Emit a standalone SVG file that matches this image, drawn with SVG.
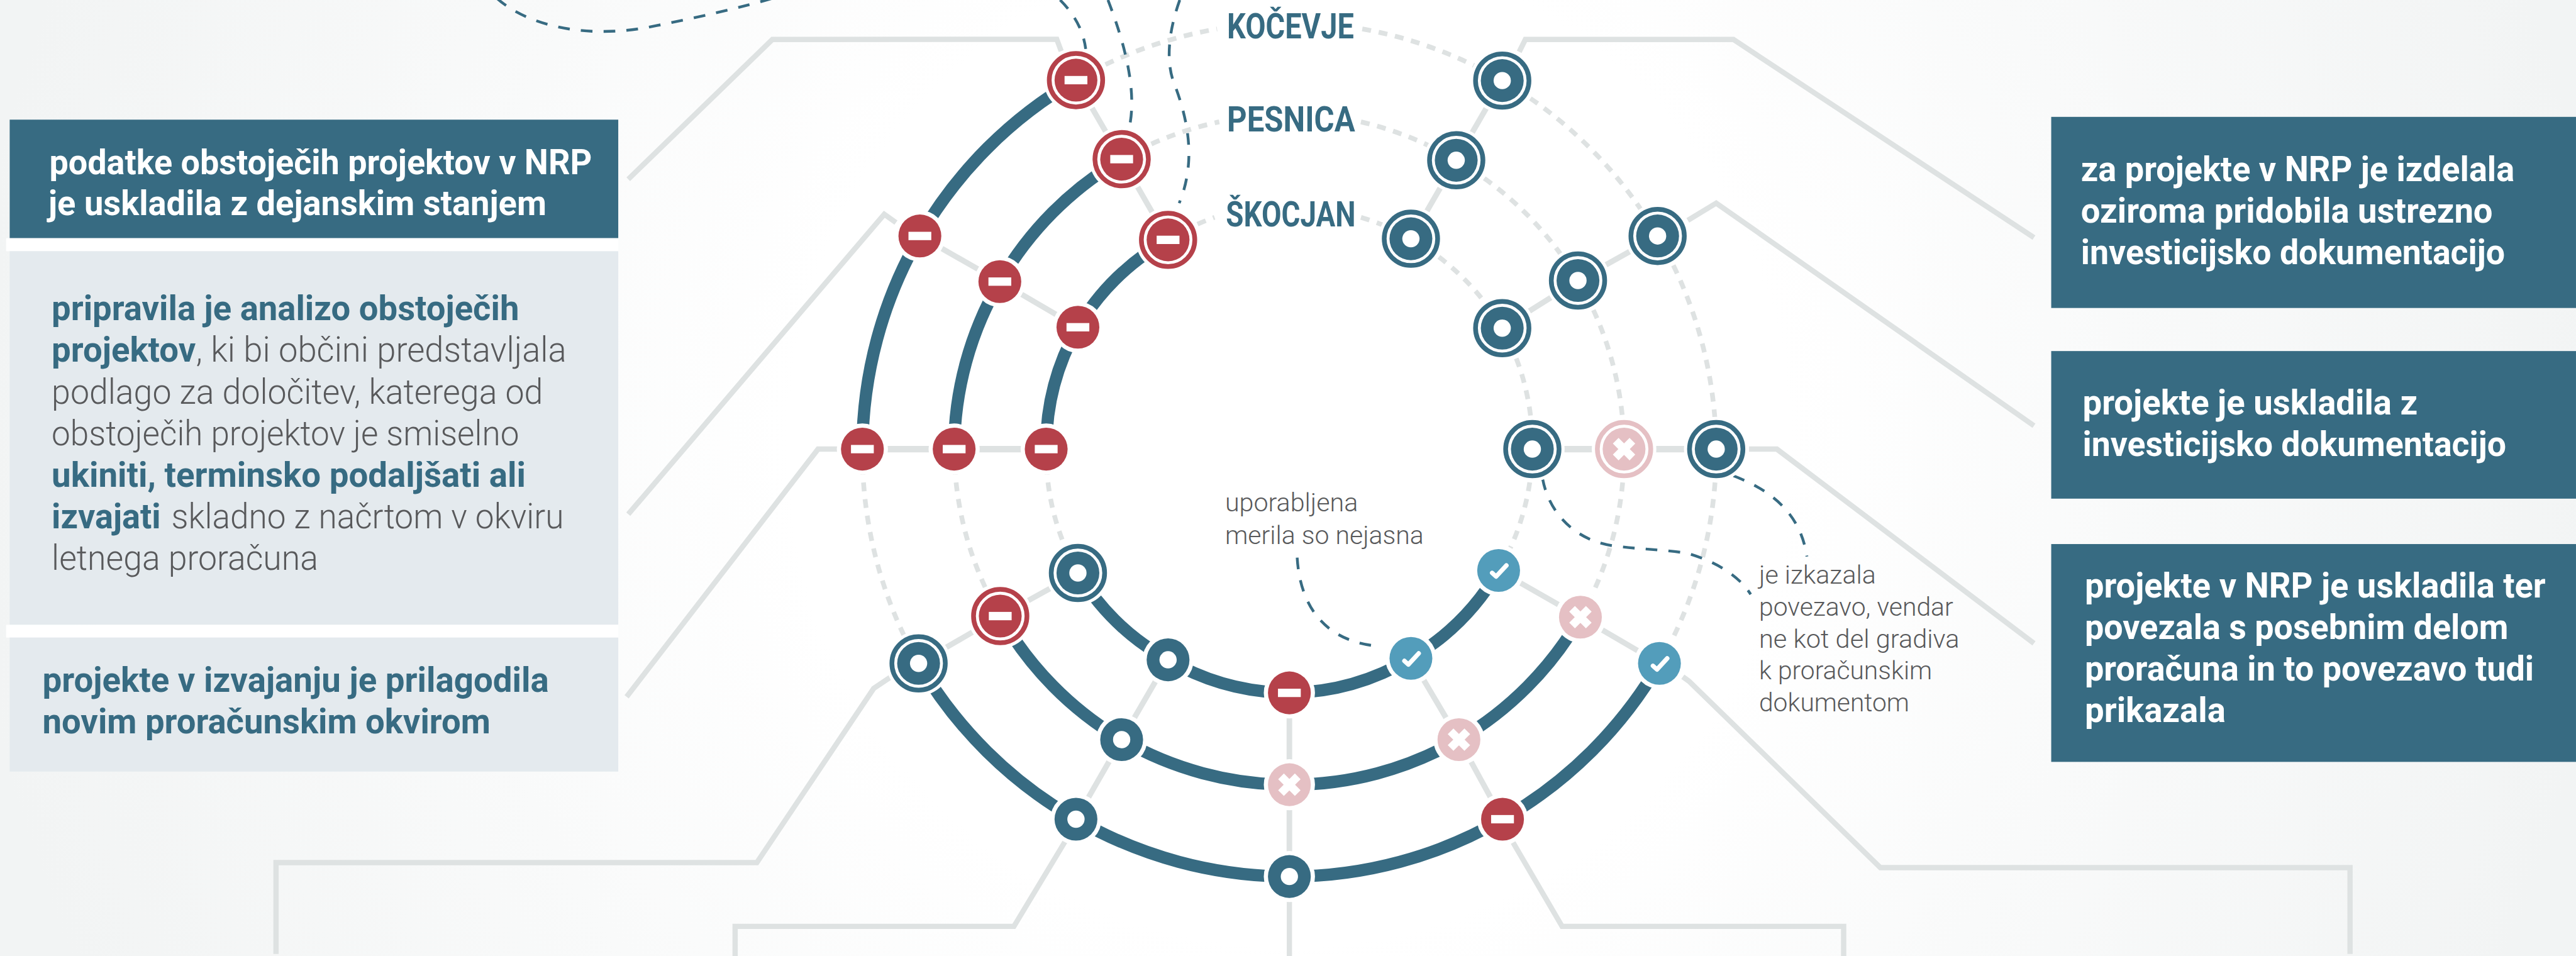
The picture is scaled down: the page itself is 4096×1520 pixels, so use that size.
<svg xmlns="http://www.w3.org/2000/svg" width="4096" height="1520" viewBox="0 0 4096 1520">
<style>
.lead{fill:none;stroke:#dee2e2;stroke-width:9.5}
.spoke{fill:none;stroke:#dee2e2;stroke-width:10}
.dash{fill:none;stroke:#dee2e2;stroke-width:8.5;stroke-dasharray:16 14}
.arc{fill:none;stroke:#376b82;stroke-width:22}
.note{fill:none;stroke:#376b82;stroke-width:5;stroke-dasharray:21 20}
.b{font-family:Roboto,"Liberation Sans",sans-serif;font-size:62px;font-weight:700}
.l{font-family:Roboto,"Liberation Sans",sans-serif;font-size:62px;font-weight:300;fill:#58595b}
.s{font-family:Roboto,"Liberation Sans",sans-serif;font-size:46px;font-weight:300;fill:#58595b}
.w{fill:#fff}
.t{fill:#376b82}
</style>
<defs>
<radialGradient id="bg" gradientUnits="userSpaceOnUse" cx="2316" cy="800" r="2500">
<stop offset="0" stop-color="#fff"/><stop offset="0.36" stop-color="#fff"/><stop offset="0.6" stop-color="#f9fafa"/><stop offset="0.95" stop-color="#f2f4f4"/><stop offset="1" stop-color="#f2f4f4"/>
</radialGradient>
<g id="mi"><rect x="-20.5" y="-7.5" width="41" height="15" fill="#fff"/></g>
<g id="xx"><path d="M-15,-15L15,15M15,-15L-15,15" stroke="#fff" stroke-width="14.5" fill="none"/></g>
<g id="ck"><path d="M-11.7,4.5L-4.5,11L14,-9" stroke="#fff" stroke-width="8" stroke-linecap="round" stroke-linejoin="round" fill="none"/></g>
<g id="red"><circle r="46" fill="#fff"/><circle r="38.5" fill="#b5414a"/><use href="#mi"/></g>
<g id="blue"><circle r="46" fill="#fff"/><circle r="38.5" fill="#376b82"/><circle r="15.5" fill="#fff"/></g>
<g id="pink"><circle r="46" fill="#fff"/><circle r="38.5" fill="#e5c0c4"/><use href="#xx"/></g>
<g id="check"><circle r="46" fill="#fff"/><circle r="38.5" fill="#539dbb"/><use href="#ck"/></g>
<g id="redD"><circle r="58" fill="#fff"/><circle r="48" fill="none" stroke="#b5414a" stroke-width="8.5"/><circle r="38.5" fill="#b5414a"/><use href="#mi"/></g>
<g id="blueD"><circle r="58" fill="#fff"/><circle r="48" fill="none" stroke="#376b82" stroke-width="8.5"/><circle r="38.5" fill="#376b82"/><circle r="15.5" fill="#fff"/></g>
<g id="pinkD"><circle r="58" fill="#fff"/><circle r="48" fill="none" stroke="#e5c0c4" stroke-width="8.5"/><circle r="38.5" fill="#e5c0c4"/><use href="#xx"/></g>
</defs>
<g transform="scale(0.88485)">
<rect id="background" x="0" y="0" width="4630" height="1720" fill="url(#bg)"/>

<g id="connectors">
<g id="leaders">
<path class="lead" d="M1907,92L1899,70.500L1388,71L1129,322"/>
<path class="lead" d="M1610,400L1589,385L1129,924"/>
<path class="lead" d="M1512,807L1470,807L1126,1252"/>
<path class="lead" d="M496,1714L496,1550L1360,1550L1570,1237L1600,1217"/>
<path class="lead" d="M1321,1718L1321,1664.500L1822,1664.500L1914,1512"/>
<path class="lead" d="M2317,1620L2317,1718"/>
<path class="lead" d="M2719,1514L2807,1664.500L3313,1664.500L3313,1718"/>
<path class="lead" d="M3024,1216L3035,1224L3379,1559L4223,1559L4223,1714"/>
<path class="lead" d="M2730,93L2741,71L3115,71L3655,427"/>
<path class="lead" d="M3033,396L3084,365L3655,765"/>
<path class="lead" d="M3143,807L3193,807L3655,1156"/>
</g>
<g id="spokes">
<path class="spoke" d="M1933.500,144L2015.600,286L2099,431"/>
<path class="spoke" d="M1653,424L1796.700,506L1937,588"/>
<path class="spoke" d="M1549.700,807L1880,807" style="stroke-width:11.500"/>
<path class="spoke" d="M2699.500,144.800L2616.800,288L2535.400,429"/>
<path class="spoke" d="M2978.700,424L2835.600,504L2699.500,589.600"/>
<path class="spoke" d="M2753.600,807L3084,807" style="stroke-width:11.500"/>
<path class="spoke" d="M1650.700,1192L1797.400,1107L1937,1029.600"/>
<path class="spoke" d="M1933.500,1472L2015.600,1329L2099,1185.600"/>
<path class="spoke" d="M2317,1245L2317,1575"/>
<path class="spoke" d="M2700,1472L2621.700,1329L2535.400,1183"/>
<path class="spoke" d="M2982,1192L2840,1109L2693,1025"/>
</g>
<g id="dashed-rings">
<path class="dash" d="M1933.500,144A768,768 0 0 1 2187,52"/>
<path class="dash" d="M2448,52A768,768 0 0 1 2699.500,144.800"/>
<path class="dash" d="M2015.600,286A603,603 0 0 1 2191,219"/>
<path class="dash" d="M2445.600,219A603,603 0 0 1 2616.800,288"/>
<path class="dash" d="M2099,431A438,438 0 0 1 2182.500,390.500"/>
<path class="dash" d="M2445.600,390.500A438,438 0 0 1 2535.400,429"/>
<path class="dash" d="M2699.500,144.800A768,768 0 0 1 2978.700,424"/>
<path class="dash" d="M2616.800,288A603,603 0 0 1 2835.600,504"/>
<path class="dash" d="M2535.400,429A438,438 0 0 1 2699.500,589.600"/>
<path class="dash" d="M2978.700,424A768,768 0 0 1 3084,807"/>
<path class="dash" d="M2835.600,504A603,603 0 0 1 2918.400,807"/>
<path class="dash" d="M2699.500,589.600A438,438 0 0 1 2753.600,807"/>
<path class="dash" d="M3084,807A768,768 0 0 1 2982,1192"/>
<path class="dash" d="M2918.400,807A603,603 0 0 1 2840,1109"/>
<path class="dash" d="M2753.600,807A438,438 0 0 1 2693,1025"/>
<path class="dash" d="M1549.700,807A768,768 0 0 0 1650.700,1192"/>
<path class="dash" d="M1714.600,807A603,603 0 0 0 1797.400,1107"/>
<path class="dash" d="M1880,807A438,438 0 0 0 1937,1029.600"/>
</g>
<g id="arcs">
<path class="arc" d="M1549.700,807A768,768 0 0 1 1653,424A768,768 0 0 1 1933.500,144"/>
<path class="arc" d="M1714.600,807A603,603 0 0 1 1796.700,506A603,603 0 0 1 2015.600,286"/>
<path class="arc" d="M1880,807A438,438 0 0 1 1937,588A438,438 0 0 1 2099,431"/>
<path class="arc" d="M1650.700,1192A768,768 0 0 0 1933.500,1472A768,768 0 0 0 2317,1575A768,768 0 0 0 2700,1472A768,768 0 0 0 2982,1192"/>
<path class="arc" d="M1797.400,1107A603,603 0 0 0 2015.600,1329A603,603 0 0 0 2317,1410A603,603 0 0 0 2621.700,1329A603,603 0 0 0 2840,1109"/>
<path class="arc" d="M1937,1029.600A438,438 0 0 0 2099,1185.600A438,438 0 0 0 2317,1245A438,438 0 0 0 2535.400,1183A438,438 0 0 0 2693,1025"/>
</g>
<g id="notes">
<path class="note" d="M893,-3C950,48 1060,72 1180,46C1260,30 1330,14 1395,-5"/>
<path class="note" d="M1905,0Q1945,40 1951,88"/>
<path class="note" d="M1991,0C2010,50 2046,150 2029.600,228"/>
<path class="note" d="M2120,0C2095,70 2098,120 2110,150C2135,215 2150,290 2119,365"/>
<path class="note" d="M2331,1002C2335,1070 2365,1150 2475,1161"/>
<path class="note" d="M2772,860C2785,930 2840,975 2905,981.500C2960,988 3000,988 3035,995C3085,1010 3125,1035 3146,1068"/>
<path class="note" d="M3115,855C3180,880 3235,920 3247,1000"/>
</g>
</g>

<g id="box-1"><rect x="17.400" y="215" width="1093.600" height="213" class="t"/><rect x="11" y="428" width="1100" height="23.400" class="w"/>
<text class="b w"><tspan x="88.700" y="312.600" textLength="975" lengthAdjust="spacingAndGlyphs">podatke obstoječih projektov v NRP</tspan><tspan x="87" y="386.700" textLength="895" lengthAdjust="spacingAndGlyphs">je uskladila z dejanskim stanjem</tspan></text></g>

<g id="box-2"><rect x="17.400" y="451.400" width="1093.600" height="671.300" fill="#e4eaee"/><rect x="11" y="1122.700" width="1100" height="22.900" class="w"/>
<text class="b t"><tspan x="92.800" y="575" textLength="840" lengthAdjust="spacingAndGlyphs">pripravila je analizo obstoječih</tspan></text>
<text y="650"><tspan class="b t" x="92.800" textLength="259" lengthAdjust="spacingAndGlyphs">projektov</tspan><tspan class="l" x="352" textLength="666" lengthAdjust="spacingAndGlyphs">, ki bi občini predstavljala</tspan></text>
<text class="l"><tspan x="92.800" y="725" textLength="883" lengthAdjust="spacingAndGlyphs">podlago za določitev, katerega od</tspan><tspan x="92.800" y="800" textLength="840" lengthAdjust="spacingAndGlyphs">obstoječih projektov je smiselno</tspan></text>
<text class="b t"><tspan x="92.800" y="874.500" textLength="852" lengthAdjust="spacingAndGlyphs">ukiniti, terminsko podaljšati ali</tspan></text>
<text y="949"><tspan class="b t" x="92.800" textLength="196" lengthAdjust="spacingAndGlyphs">izvajati</tspan><tspan class="l" x="308" textLength="705" lengthAdjust="spacingAndGlyphs">skladno z načrtom v okviru</tspan></text>
<text class="l"><tspan x="92.800" y="1024" textLength="479" lengthAdjust="spacingAndGlyphs">letnega proračuna</tspan></text></g>

<g id="box-3"><rect x="17.400" y="1145.600" width="1093.600" height="240.800" fill="#e4eaee"/>
<text class="b t"><tspan x="76.300" y="1243" textLength="910" lengthAdjust="spacingAndGlyphs">projekte v izvajanju je prilagodila</tspan><tspan x="76.300" y="1318" textLength="805" lengthAdjust="spacingAndGlyphs">novim proračunskim okvirom</tspan></text></g>

<g id="box-4"><rect x="3686" y="210" width="943" height="343.400" class="t"/>
<text class="b w"><tspan x="3739.400" y="325" textLength="779" lengthAdjust="spacingAndGlyphs">za projekte v NRP je izdelala</tspan><tspan x="3739.400" y="400" textLength="740" lengthAdjust="spacingAndGlyphs">oziroma pridobila ustrezno</tspan><tspan x="3739.400" y="474.500" textLength="762" lengthAdjust="spacingAndGlyphs">investicijsko dokumentacijo</tspan></text></g>

<g id="box-5"><rect x="3686" y="630.800" width="943" height="265.200" class="t"/>
<text class="b w"><tspan x="3742.500" y="745" textLength="602" lengthAdjust="spacingAndGlyphs">projekte je uskladila z</tspan><tspan x="3742.500" y="819.500" textLength="761" lengthAdjust="spacingAndGlyphs">investicijsko dokumentacijo</tspan></text></g>

<g id="box-6"><rect x="3686" y="977.600" width="943" height="391.400" class="t"/>
<text class="b w"><tspan x="3746.400" y="1073.400" textLength="828" lengthAdjust="spacingAndGlyphs">projekte v NRP je uskladila ter</tspan><tspan x="3746.400" y="1148" textLength="761" lengthAdjust="spacingAndGlyphs">povezala s posebnim delom</tspan><tspan x="3746.400" y="1223" textLength="807" lengthAdjust="spacingAndGlyphs">proračuna in to povezavo tudi</tspan><tspan x="3746.400" y="1297.800" textLength="253" lengthAdjust="spacingAndGlyphs">prikazala</tspan></text></g>

<g id="label-kocevje"><text class="b t" x="2205" y="68.600" textLength="228" lengthAdjust="spacingAndGlyphs">KOČEVJE</text></g>
<g id="label-pesnica"><text class="b t" x="2205" y="236" textLength="230" lengthAdjust="spacingAndGlyphs">PESNICA</text></g>
<g id="label-skocjan"><text class="b t" x="2203" y="406.400" textLength="233" lengthAdjust="spacingAndGlyphs">ŠKOCJAN</text></g>

<g id="note-merila"><text class="s"><tspan x="2201.400" y="919" textLength="239" lengthAdjust="spacingAndGlyphs">uporabljena</tspan><tspan x="2201.400" y="977.600" textLength="357" lengthAdjust="spacingAndGlyphs">merila so nejasna</tspan></text></g>
<g id="note-povezava"><text class="s"><tspan x="3161" y="1048.800" textLength="210" lengthAdjust="spacingAndGlyphs">je izkazala</tspan><tspan x="3161" y="1106" textLength="349" lengthAdjust="spacingAndGlyphs">povezavo, vendar</tspan><tspan x="3161" y="1163.700" textLength="360" lengthAdjust="spacingAndGlyphs">ne kot del gradiva</tspan><tspan x="3161" y="1221" textLength="311" lengthAdjust="spacingAndGlyphs">k proračunskim</tspan><tspan x="3161" y="1278.600" textLength="270" lengthAdjust="spacingAndGlyphs">dokumentom</tspan></text></g>

<g id="nodes">
<g id="n1-120"><use href="#redD" x="1933.500" y="144"/></g>
<g id="n1-150"><use href="#red" x="1653" y="424"/></g>
<g id="n1-180"><use href="#red" x="1549.700" y="807"/></g>
<g id="n1-60"><use href="#blueD" x="2699.500" y="144.800"/></g>
<g id="n1-30"><use href="#blueD" x="2978.700" y="424"/></g>
<g id="n1-0"><use href="#blueD" x="3084" y="807"/></g>
<g id="n1-210"><use href="#blueD" x="1650.700" y="1192"/></g>
<g id="n1-240"><use href="#blue" x="1933.500" y="1472"/></g>
<g id="n1-270"><use href="#blue" x="2317" y="1575"/></g>
<g id="n1-300"><use href="#red" x="2700" y="1472"/></g>
<g id="n1-330"><use href="#check" x="2982" y="1192"/></g>
<g id="n2-120"><use href="#redD" x="2015.600" y="286"/></g>
<g id="n2-150"><use href="#red" x="1796.700" y="506"/></g>
<g id="n2-180"><use href="#red" x="1714.600" y="807"/></g>
<g id="n2-60"><use href="#blueD" x="2616.800" y="288"/></g>
<g id="n2-30"><use href="#blueD" x="2835.600" y="504"/></g>
<g id="n2-0"><use href="#pinkD" x="2918.400" y="807"/></g>
<g id="n2-210"><use href="#redD" x="1797.400" y="1107"/></g>
<g id="n2-240"><use href="#blue" x="2015.600" y="1329"/></g>
<g id="n2-270"><use href="#pink" x="2317" y="1410"/></g>
<g id="n2-300"><use href="#pink" x="2621.700" y="1329"/></g>
<g id="n2-330"><use href="#pink" x="2840" y="1109"/></g>
<g id="n3-120"><use href="#redD" x="2099" y="431"/></g>
<g id="n3-150"><use href="#red" x="1937" y="588"/></g>
<g id="n3-180"><use href="#red" x="1880" y="807"/></g>
<g id="n3-60"><use href="#blueD" x="2535.400" y="429"/></g>
<g id="n3-30"><use href="#blueD" x="2699.500" y="589.600"/></g>
<g id="n3-0"><use href="#blueD" x="2753.600" y="807"/></g>
<g id="n3-210"><use href="#blueD" x="1937" y="1029.600"/></g>
<g id="n3-240"><use href="#blue" x="2099" y="1185.600"/></g>
<g id="n3-270"><use href="#red" x="2317" y="1245"/></g>
<g id="n3-300"><use href="#check" x="2535.400" y="1183"/></g>
<g id="n3-330"><use href="#check" x="2693" y="1025"/></g>
</g>
</g>
</svg>
